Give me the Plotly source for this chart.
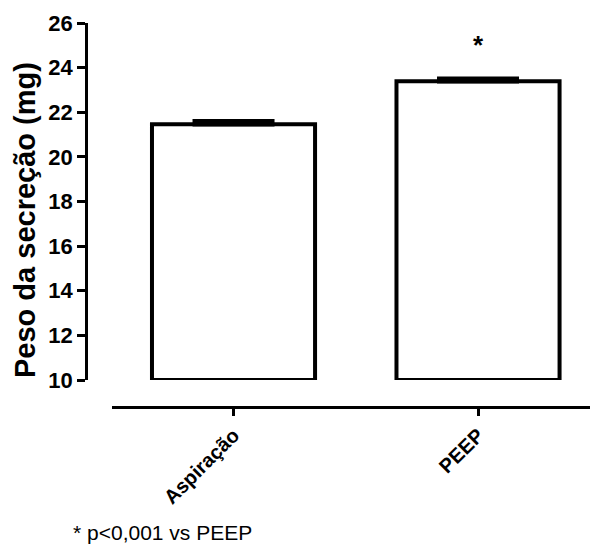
import plotly.graph_objects as go

categories = ["Aspiração", "PEEP"]
means = [21.46, 23.39]
sem = [0.14, 0.11]
y_ticks = [10, 12, 14, 16, 18, 20, 22, 24, 26]

FONT = "Arial, Liberation Sans, sans-serif"
x_pos = list(range(len(categories)))

W, H = 590, 545
L, R, T, B = 86, 0, 23, 138
pw, ph = W - L - R, H - T - B
x_dom0 = (112 - L) / pw
y_dom0 = (407 - 380) / ph


def px_x(px):
    return (px - L) / pw


def px_y(py):
    return (H - B - py) / ph


fig = go.Figure()
fig.add_trace(go.Bar(
    x=x_pos, y=[m - 10 for m in means], base=10,
    width=0.667,
    marker=dict(color="white", line=dict(color="black", width=4)),
    error_y=dict(type="data", symmetric=False, array=sem,
                 arrayminus=[0] * len(sem), visible=True, color="black",
                 thickness=4.5, width=41),
    showlegend=False, hoverinfo="skip",
))

# significance marker
fig.add_annotation(x=1, y=25.0, xref="x", yref="y", text="<b>*</b>",
                   showarrow=False, font=dict(family=FONT, size=26, color="black"))
# y-axis title
fig.add_annotation(x=px_x(25), y=px_y(220), xref="paper", yref="paper",
                   text="<b>Peso da secreção (mg)</b>", textangle=-90,
                   showarrow=False, font=dict(family=FONT, size=29, color="black"),
                   xanchor="center", yanchor="middle")
# footnote
fig.add_annotation(x=px_x(71), y=px_y(532), xref="paper", yref="paper",
                   text="* p<0,001 vs PEEP",
                   showarrow=False, font=dict(family=FONT, size=21, color="black"),
                   xanchor="left", yanchor="middle")

fig.update_layout(
    width=W, height=H,
    margin=dict(l=L, r=R, t=T, b=B, autoexpand=False),
    plot_bgcolor="white", paper_bgcolor="white",
    font=dict(family=FONT, color="black"),
    xaxis=dict(
        domain=[x_dom0, 1], anchor="free", position=0, automargin=False,
        range=[-0.497, 1.458],
        tickmode="array", tickvals=x_pos,
        ticktext=["<b>%s</b>" % c for c in categories],
        tickangle=-45, tickfont=dict(family=FONT, size=20, color="black"),
        ticks="outside", ticklen=7, tickwidth=2.5, tickcolor="black",
        showline=True, linecolor="black", linewidth=2.5,
        showgrid=False, zeroline=False,
    ),
    yaxis=dict(
        domain=[y_dom0, 1], anchor="free", position=0, automargin=False,
        range=[10, 26],
        tickmode="array", tickvals=y_ticks,
        ticktext=["<b>%d</b>" % v for v in y_ticks],
        tickfont=dict(family=FONT, size=22, color="black"),
        ticks="outside", ticklen=8, tickwidth=2.5, tickcolor="black",
        showline=True, linecolor="black", linewidth=2.5,
        showgrid=False, zeroline=False,
    ),
)

fig.write_html("out.html", config={"displayModeBar": False},
               post_script="document.body.style.margin='0px';")
